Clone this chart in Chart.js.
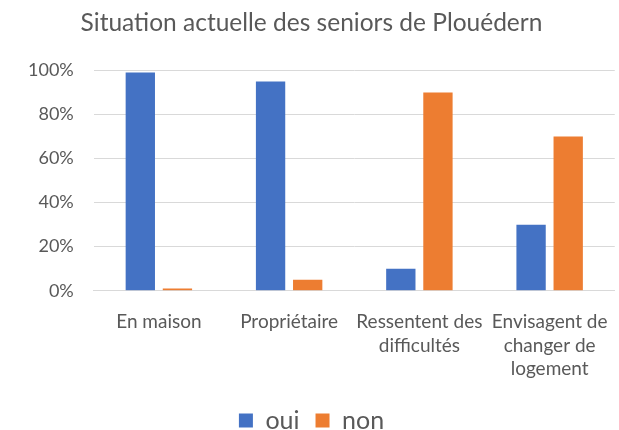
<!DOCTYPE html>
<html>
<head>
<meta charset="utf-8">
<script src="https://cdn.jsdelivr.net/npm/chart.js@4"></script>
<style>
  html, body { margin: 0; padding: 0; background: #fff; }
  canvas { display: block; }
</style>
</head>
<body>
<canvas id="seniorsChart" width="619" height="430"></canvas>
<script>
const categories = [
  "En maison",
  "Propriétaire",
  ["Ressentent des", "difficultés"],
  ["Envisagent de", "changer de", "logement"]
];

const ouiValues = [99, 95, 10, 30];
const nonValues = [1, 5, 90, 70];

const yTicks = [0, 20, 40, 60, 80, 100];

const textColor = "#595959";

const ctx = document
  .getElementById("seniorsChart")
  .getContext("2d");

new Chart(ctx, {
  type: "bar",

  data: {
    labels: categories,

    datasets: [{
      label: "oui",
      data: ouiValues,
      backgroundColor: "#4472C4",
      categoryPercentage: 0.57,
      barPercentage: 0.79
    }, {
      label: "non",
      data: nonValues,
      backgroundColor: "#ED7D31",
      categoryPercentage: 0.57,
      barPercentage: 0.79
    }]
  },

  options: {
    responsive: false,
    animation: false,

    layout: {
      padding: { left: 8, right: 4, top: 8, bottom: -13 }
    },

    plugins: {
      title: {
        display: true,
        text: "Situation actuelle des seniors de Plouédern",
        color: textColor,
        font: { family: "Lato", size: 24.5, weight: "normal" },
        padding: { top: 0, bottom: 33 }
      },

      legend: {
        position: "bottom",
        labels: {
          color: textColor,
          font: { family: "Lato", size: 25 },
          boxWidth: 14,
          boxHeight: 14,
          padding: 16
        }
      },

      tooltip: { enabled: false }
    },

    scales: {
      x: {
        grid: { display: false },
        border: { color: "#d9d9d9" },
        ticks: {
          color: textColor,
          font: { family: "Lato", size: 19, lineHeight: 1.25 },
          padding: 11,
          maxRotation: 0,
          autoSkip: false
        }
      },

      y: {
        min: 0,
        max: 100,
        afterBuildTicks: (axis) => {
          axis.ticks = yTicks.map((v) => ({ value: v }));
        },
        grid: { color: "#d9d9d9", lineWidth: 1, drawTicks: false },
        border: { display: false },
        ticks: {
          color: textColor,
          font: { family: "Lato", size: 18 },
          padding: 20,
          callback: (v) => v + "%"
        }
      }
    }
  }
});
</script>
</body>
</html>
